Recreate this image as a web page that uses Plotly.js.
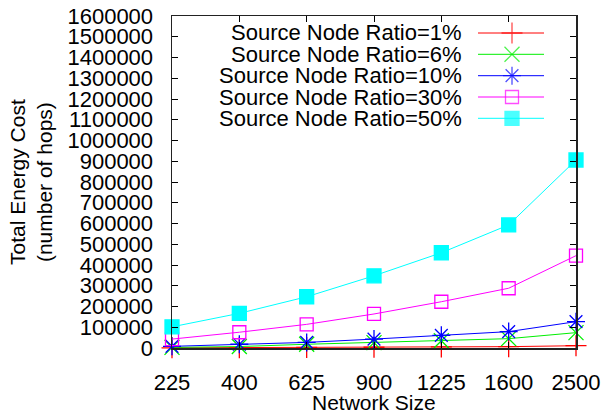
<!DOCTYPE html>
<html>
<head>
<meta charset="utf-8">
<script src="https://cdn.plot.ly/plotly-3.0.1.min.js"></script>
<style>html,body{margin:0;padding:0;background:#fff}#chart{width:602px;height:416px}</style>
</head>
<body>
<div id="chart"></div>
<script>
const networkSizes = ["225", "400", "625", "900", "1225", "1600", "2500"];
const seriesNames = ["Source Node Ratio=1%", "Source Node Ratio=6%", "Source Node Ratio=10%", "Source Node Ratio=30%", "Source Node Ratio=50%"];
const ratio1 = [1000, 1500, 2500, 3500, 5000, 6500, 11000];
const ratio6 = [3000, 7000, 18000, 26000, 35000, 45000, 74000];
const ratio10 = [8000, 18000, 27000, 43000, 61000, 79000, 127000];
const ratio30 = [43000, 76000, 114000, 164000, 223000, 288000, 445000];
const ratio50 = [102000, 167000, 247000, 348000, 459000, 593000, 906000];
const yTickStep = 100000;
const yMax = 1600000;
const xTitle = "Network Size";
const yTitle = "Total Energy Cost<br>(number of hops)";

const seriesValues = [ratio1, ratio6, ratio10, ratio30, ratio50];
const colors = ["#ff0000", "#00ee00", "#0000ff", "#ff00ff", "#00ffff"];
const symbols = ["cross-thin-open", "x-thin-open", "asterisk-open", "square-open", "square"];
const sizes = [15, 15, 15, 13, 14];

const FONT = "Liberation Sans, Arial, Helvetica, sans-serif";
const FS = 22;
const L = 172, R = 576, T = 16, B = 348;
const px2paperX = p => (p - L) / (R - L);
const px2paperY = p => (B - p) / (B - T);

const data = [];
seriesValues.forEach((vals, i) => {
  data.push({
    x: networkSizes, y: vals, type: "scatter", mode: "lines+markers",
    name: seriesNames[i], showlegend: false,
    line: {color: colors[i], width: 1},
    marker: {symbol: symbols[i], size: sizes[i], color: colors[i], line: {color: colors[i], width: 1.3}},
    cliponaxis: false
  });
});

// legend samples drawn in a pixel-space overlay axis
const legRowY = [33, 54.3, 75.7, 97, 118.3];
const annotations = [];
seriesNames.forEach((name, i) => {
  data.push({
    x: [478, 512, 544], y: [legRowY[i], legRowY[i], legRowY[i]],
    xaxis: "x2", yaxis: "y2", type: "scatter", mode: "lines+markers", showlegend: false, hoverinfo: "skip",
    line: {color: colors[i], width: 1},
    marker: {symbol: symbols[i], size: [0, sizes[i], 0], color: colors[i], line: {color: colors[i], width: 1.3}}
  });
  annotations.push({
    xref: "paper", yref: "paper", x: px2paperX(464), y: px2paperY(legRowY[i]), text: name, showarrow: false,
    xanchor: "right", yanchor: "middle", font: {family: FONT, size: FS, color: "#000"}
  });
});
annotations.push({
  xref: "paper", yref: "paper", x: px2paperX(374), y: px2paperY(402), text: xTitle, showarrow: false,
  xanchor: "center", yanchor: "middle", font: {family: FONT, size: FS - 1, color: "#000"}
});
annotations.push({
  xref: "paper", yref: "paper", x: px2paperX(31), y: px2paperY(182), text: yTitle, showarrow: false, textangle: -90,
  xanchor: "center", yanchor: "middle", font: {family: FONT, size: FS - 1, color: "#000"}
});

const layout = {
  width: 602, height: 416,
  margin: {l: L, r: 602 - R, t: T, b: 416 - B, pad: 0},
  paper_bgcolor: "#fff", plot_bgcolor: "#fff",
  font: {family: FONT, size: FS, color: "#000"},
  showlegend: false,
  xaxis: {
    type: "category", range: [0, 6], showgrid: false, zeroline: false,
    showline: true, linecolor: "#222", linewidth: 1.5, mirror: "ticks",
    ticks: "inside", ticklen: 6, tickcolor: "#000",
    ticklabelstandoff: 14,
    tickfont: {family: FONT, size: FS, color: "#000"}
  },
  yaxis: {
    range: [0, yMax], tick0: 0, dtick: yTickStep, tickformat: "d",
    showgrid: false, zeroline: false,
    showline: true, linecolor: "#222", linewidth: 1.5, mirror: "ticks",
    ticks: "inside", ticklen: 6, tickcolor: "#000",
    ticklabelstandoff: 13,
    tickfont: {family: FONT, size: FS, color: "#000"}
  },
  xaxis2: {overlaying: "x", range: [L, R], visible: false, fixedrange: true},
  yaxis2: {overlaying: "y", range: [B, T], visible: false, fixedrange: true},
  annotations: annotations
};

Plotly.newPlot("chart", data, layout, {staticPlot: true, displayModeBar: false});
</script>
</body>
</html>
